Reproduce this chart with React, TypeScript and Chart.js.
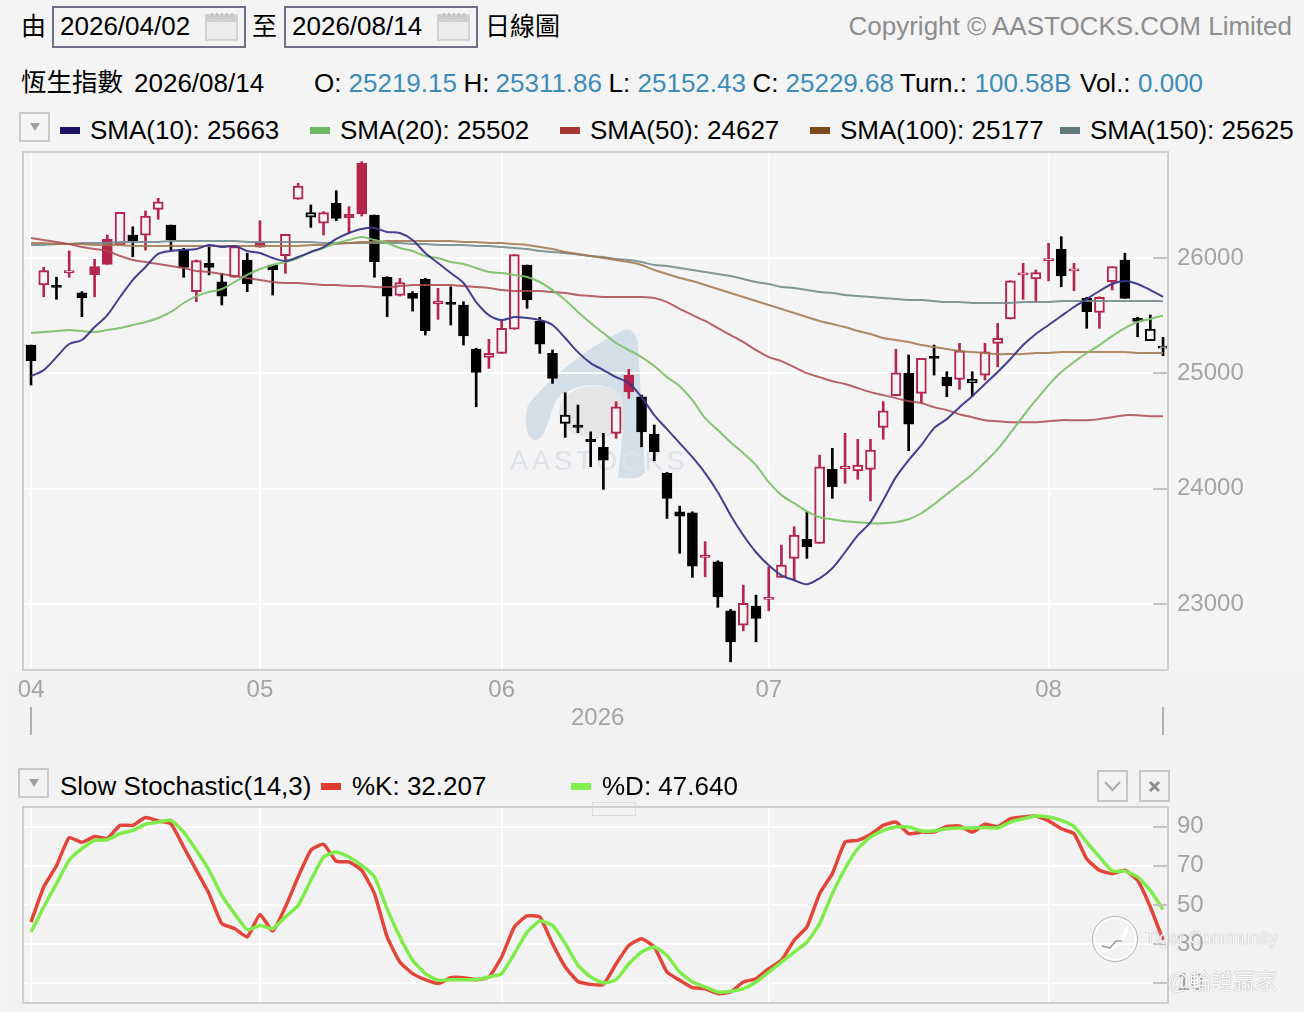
import React, { useEffect, useRef } from "react";
import Chart from "chart.js/auto";

const opens = [25245,25766,25762,25873,25699,25925,26162,26113,26199,26199,26422,26286,26075,25708,25954,25794,25833,25983,26133,25939,26020,26509,26353,26301,26474,26379,26821,26373,25833,25676,25694,25815,25601,25612,25592,25211,25139,25173,25382,25939,25454,25173,24566,24552,24428,24358,24480,24985,24797,24474,24133,23800,23791,23404,23366,22941,22817,22982,23040,23231,23396,23560,23526,24167,24173,24155,24167,24532,24806,25000,24827,25144,24965,24948,24918,24985,25260,25471,25853,25818,25977,26075,25887,25650,25529,25794,25983,25480,25283,25219.15];
const highs = [25245,25919,25833,26061,25708,25989,26199,26396,26271,26408,26518,26286,26084,25983,26113,25867,26098,26041,26324,25939,26206,26648,26460,26402,26584,26445,26835,26373,25838,25824,25708,25824,25737,25751,25621,25217,25295,25462,26029,25939,25486,25202,24832,24725,24493,24480,24754,25035,24812,24552,24141,23849,23800,23540,23375,22953,23164,23077,23323,23511,23670,23800,24291,24350,24480,24428,24428,24754,25208,25159,25130,25245,25014,25260,25014,25260,25434,25803,25954,25896,26127,26185,25954,25659,25664,25925,26041,25486,25506,25311.86];
const lows = [24899,25664,25642,25833,25491,25664,25945,26113,26011,26069,26336,26069,25833,25621,25853,25592,25833,25708,26093,25679,25867,26509,26266,26199,26324,26214,26364,25833,25491,25670,25540,25332,25468,25419,25245,24710,25043,25173,25382,25564,25173,24913,24445,24485,24190,23994,24436,24783,24363,24242,23742,23439,23231,23236,22971,22499,22768,22672,22941,23231,23207,23396,23526,23916,24046,24081,23895,24428,24806,24329,24740,24985,24797,24861,24803,24942,25057,25471,25642,25621,25801,25751,25716,25390,25390,25722,25650,25317,25283,25152.43];
const closes = [25109,25890,25744,25887,25653,25855,25945,26396,26150,26364,26488,26156,25919,25977,25919,25670,26098,25775,26093,25896,26206,26624,26393,26393,26344,26350,26382,25968,25670,25786,25650,25369,25627,25598,25324,25009,25173,25390,26029,25636,25252,24957,24638,24532,24407,24248,24710,24840,24493,24320,23916,23762,23329,23424,23062,22672,23005,22875,23057,23337,23598,23496,24190,24017,24196,24205,24335,24676,25005,24560,25130,25130,24890,25196,24948,25187,25304,25803,25867,25873,25994,25844,25907,25534,25659,25925,25650,25451,25384,25229.68];
// 1 = the day closed above the previous close (red candle), 0 = below (black candle)
const upDays = [0,1,0,1,0,1,1,1,0,1,1,0,0,1,0,0,1,0,1,0,1,1,0,1,0,1,1,0,0,1,0,0,1,0,0,0,1,1,1,0,0,0,0,0,0,0,1,1,0,0,0,0,0,1,0,0,1,0,1,1,1,0,1,0,1,1,1,1,1,0,1,0,0,1,0,1,1,1,1,1,1,0,1,0,1,1,0,0,0,0];

const sma10 = [24976,25028,25141,25254,25289,25401,25505,25662,25809,25922,26035,26061,26069,26078,26113,26095,26104,26061,26043,26000,25974,26009,26052,26095,26165,26217,26252,26260,26225,26217,26156,26043,25957,25870,25783,25618,25505,25462,25488,25480,25462,25419,25306,25184,25089,25028,24967,24915,24794,24638,24516,24395,24273,24135,23970,23770,23596,23449,23336,23249,23206,23171,23223,23310,23449,23596,23709,23900,24100,24247,24377,24525,24603,24707,24802,24907,25011,25124,25245,25341,25419,25497,25575,25644,25714,25775,25801,25775,25722,25663];
const sma20 = [25349,25358,25367,25375,25367,25358,25375,25393,25419,25445,25480,25532,25610,25670,25705,25731,25792,25853,25905,25939,25965,26000,26052,26087,26130,26156,26182,26156,26130,26087,26061,26017,26000,25965,25948,25913,25879,25870,25853,25835,25792,25722,25636,25532,25436,25349,25263,25202,25141,25063,24967,24889,24767,24611,24508,24403,24308,24204,24056,23944,23874,23804,23752,23735,23718,23709,23700,23700,23709,23735,23787,23865,23952,24039,24126,24230,24343,24482,24629,24767,24898,25011,25098,25176,25245,25323,25393,25445,25471,25502];
const sma50 = [26173,26156,26139,26121,26095,26078,26061,26017,25983,25965,25948,25931,25913,25887,25879,25861,25844,25827,25809,25792,25783,25783,25775,25766,25766,25757,25757,25748,25748,25757,25766,25766,25766,25766,25757,25748,25740,25722,25714,25714,25714,25705,25696,25679,25670,25662,25662,25662,25662,25653,25618,25558,25505,25454,25393,25332,25271,25202,25141,25106,25054,25002,24967,24932,24907,24872,24837,24811,24785,24759,24742,24707,24681,24646,24620,24594,24585,24577,24577,24577,24585,24594,24594,24594,24603,24620,24637,24637,24629,24627];
const sma100 = [26130,26130,26121,26121,26121,26113,26113,26113,26104,26104,26104,26104,26104,26104,26104,26104,26104,26104,26104,26104,26104,26104,26113,26113,26121,26130,26139,26139,26147,26147,26147,26147,26147,26147,26139,26139,26130,26130,26121,26113,26095,26078,26052,26035,26017,26000,25983,25965,25939,25896,25861,25827,25801,25766,25731,25696,25662,25627,25592,25558,25523,25488,25454,25427,25401,25367,25341,25306,25289,25271,25245,25228,25211,25193,25185,25176,25167,25167,25167,25176,25176,25185,25185,25185,25185,25185,25185,25176,25176,25177];
const sma150 = [26113,26113,26121,26121,26130,26130,26130,26139,26139,26139,26139,26147,26147,26147,26147,26147,26147,26139,26139,26139,26139,26139,26139,26130,26130,26130,26130,26130,26130,26130,26121,26121,26113,26113,26113,26104,26104,26095,26087,26078,26061,26052,26043,26030,26017,26009,25991,25983,25965,25939,25931,25913,25896,25879,25861,25844,25818,25792,25775,25748,25740,25722,25705,25696,25679,25670,25662,25653,25644,25636,25636,25627,25618,25618,25610,25610,25610,25610,25618,25618,25618,25627,25627,25627,25627,25627,25627,25627,25627,25625];

const stochK = [41.3,59.2,70,84.4,82,85,84,90.6,90.6,94.6,92.9,91.5,79.6,67.7,55.8,40.5,38,33.7,45.2,36.7,49,64.3,77.9,81,72.3,72,67.7,55.8,33.7,20.9,15,11.9,9.9,12.9,12.9,11.9,13.3,23.5,38.8,44.4,43.9,30.3,18.4,11,9.5,9.5,20,29.4,32.8,28.6,15.8,11.6,7.8,7.3,4.8,5.6,10.7,12.4,17.5,21.8,32,38.8,55.8,66,82.1,83,86,90.6,92.3,86.4,87.2,87.2,90.1,90.3,87.2,91.2,90,94,94.9,95.4,92.9,88.9,86.4,73.6,67.7,66,67.7,62.6,49,32.207];
const stochD = [36.2,49,60.9,72.8,78.7,83,83.3,86.4,88.1,91.2,92.3,93.2,87.2,77.9,67.7,54.9,45.6,37.4,39.6,37.9,43.9,49.8,62.6,74.5,77,74.5,70.2,64.3,48,33.7,21.8,15,11.6,11.9,11.9,11.9,13.3,15,25.2,36.2,41.8,39.6,30.3,19.2,13.3,10.2,11.9,20,26,28.6,24.3,15.8,10.7,8.2,5.6,6,7.3,10.7,15.8,20.9,26,31,40.5,55.8,68.5,78.7,84.7,88.1,89.8,89.8,87.8,87.8,88.9,89.3,89.3,89.5,89.3,92.3,94,95.4,94.9,93.2,90.1,82.1,74.5,67.3,67.3,64.3,57.5,47.64];

const monthTicks = [0, 18, 37, 58, 80];
const monthLabels = ["04", "05", "06", "07", "08"];
const priceTicks = [23000, 24000, 25000, 26000];
const stochTicks = [10, 30, 50, 70, 90];

const SANS = '"Liberation Sans", "Noto Sans CJK TC", Arial, sans-serif';
const PAGE = "#f4f4f4";
const LOWER = "#f2f2f2";
const GREY = "#a4a4a4";
const FRAME = "#cecece";
const CANDLE_RED = "#b5264c";
const CANDLE_BLACK = "#000000";
const xRange = { min: -0.63, max: 89.39 };

const framePlugin = {
  id: "frameAndInnerTicks",
  afterDatasetsDraw(chart: any) {
    const { ctx, chartArea: a, scales } = chart;
    ctx.save();
    ctx.strokeStyle = "#c4c4c4";
    ctx.lineWidth = 2;
    ctx.beginPath();
    scales.y.ticks.forEach((t: any) => {
      const p = Math.round(scales.y.getPixelForValue(t.value));
      ctx.moveTo(a.right - 15, p);
      ctx.lineTo(a.right, p);
    });
    ctx.stroke();
    ctx.strokeStyle = FRAME;
    ctx.strokeRect(a.left, a.top, a.right - a.left, a.bottom - a.top);
    ctx.restore();
  },
};

const endMarks = {
  id: "yearEndMarks",
  afterDraw(chart: any) {
    const { ctx, scales } = chart;
    ctx.save();
    ctx.strokeStyle = "#b0b0b0";
    ctx.lineWidth = 2;
    ctx.beginPath();
    [0, sma10.length - 1].forEach((i) => {
      const p = scales.x.getPixelForValue(i);
      ctx.moveTo(p, scales.y.bottom + 37);
      ctx.lineTo(p, scales.y.bottom + 65);
    });
    ctx.stroke();
    ctx.restore();
  },
};

function xAxis(showLabels: boolean, height: number) {
  return {
    type: "linear" as const,
    offset: false,
    ...xRange,
    afterBuildTicks: (s: any) => {
      s.ticks = monthTicks.map((value) => ({ value }));
    },
    afterFit: (s: any) => {
      s.height = height;
      s.paddingLeft = 0;
      s.paddingRight = 0;
    },
    border: { display: false },
    grid: { offset: false, color: "rgba(255,255,255,0.9)", lineWidth: 2, drawTicks: false },
    ticks: {
      display: showLabels,
      autoSkip: false,
      maxRotation: 0,
      padding: 6,
      color: GREY,
      font: { family: SANS, size: 24 },
      callback: (v: any) => monthLabels[monthTicks.indexOf(v)] ?? "",
    },
  };
}

function yAxis(min: number, max: number, values: number[]) {
  return {
    type: "linear" as const,
    position: "right" as const,
    min,
    max,
    afterBuildTicks: (s: any) => {
      s.ticks = values.map((value) => ({ value }));
    },
    afterFit: (s: any) => {
      s.width = 136;
      s.paddingTop = 0;
      s.paddingBottom = 0;
    },
    border: { display: false },
    grid: { color: "rgba(255,255,255,0.9)", lineWidth: 2, drawTicks: false },
    ticks: {
      padding: 9,
      color: GREY,
      font: { family: SANS, size: 24 },
      callback: (v: any) => String(v),
    },
  };
}

function line(label: string, values: number[], color: string, width: number, tension: number, order: number) {
  return {
    type: "line" as const,
    label,
    data: values.map((y, x) => ({ x, y })),
    borderColor: color,
    borderWidth: width,
    pointRadius: 0,
    tension,
    order,
  };
}

function PriceChart() {
  const ref = useRef<HTMLCanvasElement>(null);
  useEffect(() => {
    const colors = upDays.map((u) => (u ? CANDLE_RED : CANDLE_BLACK));
    const chart = new Chart(ref.current!, {
      type: "bar",
      data: {
        datasets: [
          line("SMA(10)", sma10, "rgba(58,54,138,0.95)", 2, 0.3, 1),
          line("SMA(20)", sma20, "rgba(124,194,108,0.95)", 2, 0.3, 2),
          line("SMA(50)", sma50, "rgba(172,72,80,0.85)", 2, 0.3, 3),
          line("SMA(100)", sma100, "rgba(160,116,74,0.85)", 2, 0.3, 4),
          line("SMA(150)", sma150, "rgba(118,140,140,0.9)", 2, 0.3, 5),
          {
            type: "bar" as const,
            label: "Body",
            data: opens.map((o, x) => ({ x, y: [o, closes[x]] })),
            backgroundColor: colors.map((c, i) => (closes[i] > opens[i] ? PAGE : c)),
            borderColor: colors,
            borderWidth: 2,
            borderSkipped: false,
            grouped: false,
            barPercentage: 1,
            categoryPercentage: 1,
            maxBarThickness: 10,
            minBarLength: 2,
            order: 6,
          },
          {
            type: "bar" as const,
            label: "Range",
            data: lows.map((l, x) => ({ x, y: [l, highs[x]] })),
            backgroundColor: colors,
            borderWidth: 0,
            grouped: false,
            barPercentage: 1,
            categoryPercentage: 1,
            maxBarThickness: 2,
            order: 7,
          },
        ] as any,
      },
      options: {
        responsive: false,
        animation: false,
        layout: { padding: { left: 10, top: 10 } },
        plugins: { legend: { display: false }, tooltip: { enabled: false } },
        scales: {
          x: xAxis(true, 92),
          y: yAxis(22428, 26919, priceTicks),
        },
      } as any,
      plugins: [framePlugin, endMarks],
    });
    return () => chart.destroy();
  }, []);
  return <canvas ref={ref} width={1291} height={620} style={{ position: "absolute", left: 13, top: 142, display: "block" }} />;
}

function StochChart() {
  const ref = useRef<HTMLCanvasElement>(null);
  useEffect(() => {
    const chart = new Chart(ref.current!, {
      type: "line",
      data: {
        datasets: [
          line("%K", stochK, "#e2453a", 3.5, 0.15, 2),
          line("%D", stochD, "#7fec4b", 3.5, 0.15, 1),
        ] as any,
      },
      options: {
        responsive: false,
        animation: false,
        layout: { padding: { left: 10, top: 10, bottom: 9 } },
        plugins: { legend: { display: false }, tooltip: { enabled: false } },
        scales: {
          x: xAxis(false, 0),
          y: yAxis(0, 100, stochTicks),
        },
      } as any,
      plugins: [framePlugin],
    });
    return () => chart.destroy();
  }, []);
  return <canvas ref={ref} width={1291} height={215} style={{ position: "absolute", left: 13, top: 797, display: "block" }} />;
}

function T(p: { x: number; y: number; size?: number; color?: string; children: React.ReactNode; z?: number; style?: React.CSSProperties }) {
  return (
    <div
      style={{
        position: "absolute",
        left: p.x,
        top: p.y,
        transform: "translateY(-50%)",
        fontFamily: SANS,
        fontSize: p.size ?? 26,
        lineHeight: 1,
        whiteSpace: "nowrap",
        color: p.color ?? "#000",
        zIndex: p.z,
        ...p.style,
      }}
    >
      {p.children}
    </div>
  );
}

function Box(p: { x: number; y: number; w: number; h: number; border?: string; bg?: string; children?: React.ReactNode }) {
  return (
    <div
      style={{
        position: "absolute",
        left: p.x,
        top: p.y,
        width: p.w,
        height: p.h,
        boxSizing: "border-box",
        border: p.border,
        background: p.bg,
      }}
    >
      {p.children}
    </div>
  );
}

function Calendar({ x }: { x: number }) {
  return (
    <svg style={{ position: "absolute", left: x, top: 12 }} width={34} height={30}>
      <rect x={1} y={3} width={31} height={25} fill="#ececec" stroke="#d2d2d2" strokeWidth={2} />
      <rect x={2} y={4} width={29} height={6} fill="#cfcfcf" />
      {[6, 11, 16, 21, 26].map((d) => (
        <rect key={d} x={d} y={1} width={2} height={4} fill="#c0c0c0" />
      ))}
    </svg>
  );
}

function DropButton({ x, y, w, h }: { x: number; y: number; w: number; h: number }) {
  return (
    <Box x={x} y={y} w={w} h={h} border="2px solid #c9c9c9">
      <div
        style={{
          position: "absolute",
          left: (w - 4) / 2 - 5,
          top: (h - 4) / 2 - 4,
          width: 0,
          height: 0,
          borderLeft: "5px solid transparent",
          borderRight: "5px solid transparent",
          borderTop: "8px solid #a0a0a0",
        }}
      />
    </Box>
  );
}

const BLUE = "#3d8bba";
const smaLegend = [
  { x: 60, c: "#1c1466", t: "SMA(10): 25663" },
  { x: 310, c: "#6fb962", t: "SMA(20): 25502" },
  { x: 560, c: "#a83434", t: "SMA(50): 24627" },
  { x: 810, c: "#7a4a1e", t: "SMA(100): 25177" },
  { x: 1060, c: "#5f7878", t: "SMA(150): 25625" },
];
const quoteParts = [
  { x: 314, t: "O:", c: "#000" },
  { x: 348.5, t: "25219.15", c: BLUE },
  { x: 463.5, t: "H:", c: "#000" },
  { x: 495.5, t: "25311.86", c: BLUE },
  { x: 608.5, t: "L:", c: "#000" },
  { x: 637.5, t: "25152.43", c: BLUE },
  { x: 752.5, t: "C:", c: "#000" },
  { x: 785.5, t: "25229.68", c: BLUE },
  { x: 900, t: "Turn.:", c: "#000" },
  { x: 974.5, t: "100.58B", c: BLUE },
  { x: 1080, t: "Vol.:", c: "#000" },
  { x: 1138, t: "0.000", c: BLUE },
];

export default function App() {
  return (
    <div style={{ position: "absolute", left: 0, top: 0, width: 1304, height: 1012, overflow: "hidden", background: PAGE }}>
      <Box x={8} y={672} w={1296} h={340} bg={LOWER} />

      <T x={21} y={26} size={25}>由</T>
      <Box x={52} y={6} w={194} h={42} border="2px solid #6f7088" />
      <T x={60} y={26}>2026/04/02</T>
      <Calendar x={205} />
      <T x={252} y={26} size={25}>至</T>
      <Box x={284} y={6} w={194} h={42} border="2px solid #6f7088" />
      <T x={292} y={26}>2026/08/14</T>
      <Calendar x={437} />
      <T x={485} y={26} size={25}>日線圖</T>
      <T x={848.5} y={26} color="#8d8d8d">Copyright © AASTOCKS.COM Limited</T>

      <T x={21} y={83} size={25.5}>恆生指數</T>
      <T x={134} y={83}>2026/08/14</T>
      {quoteParts.map((q) => (
        <T key={q.x} x={q.x} y={83} color={q.c}>{q.t}</T>
      ))}

      <DropButton x={19} y={112} w={31} h={30} />
      {smaLegend.map((l) => (
        <React.Fragment key={l.x}>
          <Box x={l.x} y={127} w={20} h={7} bg={l.c} />
          <T x={l.x + 30} y={130}>{l.t}</T>
        </React.Fragment>
      ))}

      <svg style={{ position: "absolute", left: 0, top: 0 }} width={1304} height={700}>
        <ellipse cx={595} cy={412} rx={36} ry={26} fill="#e5e5e5" />
        <path
          d="M527 408 C535 390 590 345 615 335 C628 325 637 330 638 345 L645 472 Q640 480 625 478 L618 478 C622 440 625 420 622 395 C600 378 570 385 556 400 C548 420 545 440 535 440 C525 438 525 420 527 408 Z"
          fill="#d2dee8"
        />
      </svg>
      <T x={510} y={461} size={27} color="#dbe2e9" style={{ letterSpacing: 4 }}>AASTOCKS</T>

      <PriceChart />
      <T x={571} y={717} size={24} color={GREY}>2026</T>

      <DropButton x={18} y={768} w={31} h={30} />
      <T x={60} y={786}>Slow Stochastic(14,3)</T>
      <Box x={321} y={783} w={20} h={7} bg="#e23a2f" />
      <T x={352} y={786}>%K: 32.207</T>
      <Box x={571} y={783} w={20} h={7} bg="#7ff04e" />
      <T x={602} y={786}>%D: 47.640</T>
      <Box x={1097} y={770} w={31} h={32} border="2px solid #c6c6c6">
        <svg width={27} height={28} style={{ display: "block" }}>
          <path d="M6 10 L13.5 18 L21 10" fill="none" stroke="#a8a8a8" strokeWidth={2} />
        </svg>
      </Box>
      <Box x={1139} y={770} w={31} h={32} border="2px solid #c6c6c6">
        <svg width={27} height={28} style={{ display: "block" }}>
          <path d="M9 10 L18 19 M18 10 L9 19" fill="none" stroke="#8e8e8e" strokeWidth={3} />
        </svg>
      </Box>
      <Box x={592} y={802} w={44} h={14} border="1px solid #dcdcdc" />

      <StochChart />

      <svg style={{ position: "absolute", left: 1090, top: 914, zIndex: 5 }} width={52} height={52}>
        <circle cx={25} cy={25} r={21} fill="none" stroke="#ffffff" strokeWidth={2} />
        <circle cx={25} cy={25} r={22.5} fill="none" stroke="#9f9f9f" strokeWidth={0.8} />
        <path d="M12 38 C24 36 34 26 38 12" fill="none" stroke="#ffffff" strokeWidth={3} />
        <path d="M12 32 L20 34 L26 27 L32 27" fill="none" stroke="#9f9f9f" strokeWidth={1.5} />
      </svg>
      <T x={1145} y={939} size={17.5} color="#f7f7f7" z={5} style={{ textShadow: "0 0 1px #8a8a8a" }}>Tiger Community</T>
      <T x={1167} y={982} size={22} color="#fbfbfb" z={5} style={{ textShadow: "0 0 1px #7f7f7f" }}>@輪證贏家</T>
    </div>
  );
}
